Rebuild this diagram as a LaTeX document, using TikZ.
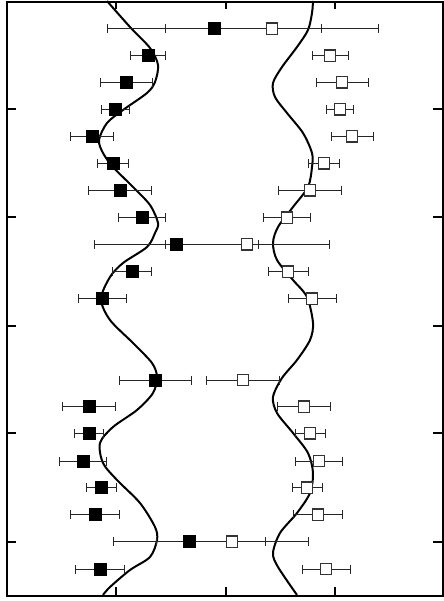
\documentclass[tikz,border=0pt]{standalone}
\usepackage{tikz}
\usetikzlibrary{arrows.meta}

\begin{document}
\begin{tikzpicture}[x=0.5pt, y=-0.5pt,
    every node/.style={draw, minimum size=6pt, inner sep=0pt}
  ]
  \tikzset{
    vol/.style={fill=black, draw=black, line width=0.3pt},
    vazio/.style={fill=white, draw=black!80, line width=0.7pt, minimum size=5.7pt},
    barra/.style={line width=0.5pt, black!85, {Bar[width=4.5pt]}-{Bar[width=4.5pt]}},
    curva/.style={line width=1pt, smooth, tension=0.5}
  }
  \useasboundingbox (0,0) rectangle (444,601);
  % moldura e marcas
  \draw[line width=1pt] (7,1.5) rectangle (442.5,595.5);
  \foreach \tx in {116,226,335} {
    \draw[line width=0.8pt] (\tx,1.5) -- (\tx,9);
    \draw[line width=0.8pt] (\tx,595.5) -- (\tx,587);
  }
  \foreach \ty in {109,217,326,433,542} {
    \draw[line width=0.8pt] (7,\ty) -- (16,\ty);
    \draw[line width=0.8pt] (442.5,\ty) -- (433,\ty);
  }
  % curvas
  \draw[curva] plot coordinates {(107,1) (130,27) (150,48) (158,65) (155,82)
    (147,93) (123,110) (107,123) (99,140) (103,153) (113,167) (133,187)
    (150,205) (158,223) (155,233) (147,247) (123,263) (110,277) (101,299)
    (110,320) (133,343) (152,363) (157,377) (153,393) (137,410) (113,427)
    (100,443) (103,463) (117,480) (140,503) (155,527) (157,540) (150,557)
    (130,570) (110,587) (103,595)};
  \draw[curva] plot coordinates {(313,1) (312,13) (308,30) (297,47) (282,67)
    (273,83) (275,97) (287,113) (303,133) (312,153) (312,167) (308,187)
    (293,207) (278,227) (273,243) (277,260) (293,280) (307,297) (313,323)
    (310,340) (297,360) (282,378) (273,397) (277,413) (293,433) (308,453)
    (313,473) (310,493) (297,513) (280,533) (273,553) (278,567) (297,595)};
  % pontos com barras de erro
  \foreach \y/\fx/\fe/\ox/\oe [count=\i] in {
      28.7/214/107.5/272/107, 55.7/148/18/330/18.5, 82.3/126/26.5/342/26.5,
      109.3/115/14.5/340/14, 136.3/92/22/352/21.5, 163.3/113/16/324/16,
      190.3/120/32/310/32, 217.7/142/24/287/24, 244.3/176/82.5/247/82.5,
      271.7/132/20/288/20.5, 298.7/102/24.5/312/24.5, 380/155/36.5/243/37,
      406.7/89/27/304/27, 433.3/89/15/310/15.5, 461/83/24/319/24,
      487.7/101/15.5/307/15.5, 514.7/95/25/318/25, 541.7/189/76.5/232/76.5,
      569/100/25/326/24.5} {
    \draw[barra] (\fx-\fe,\y) -- (\fx+\fe,\y);
    \draw[barra] (\ox-\oe,\y) -- (\ox+\oe,\y);
    \node[vol] (f\i) at (\fx,\y) {};
    \node[vazio] (o\i) at (\ox,\y) {};
  }
\end{tikzpicture}
\end{document}
